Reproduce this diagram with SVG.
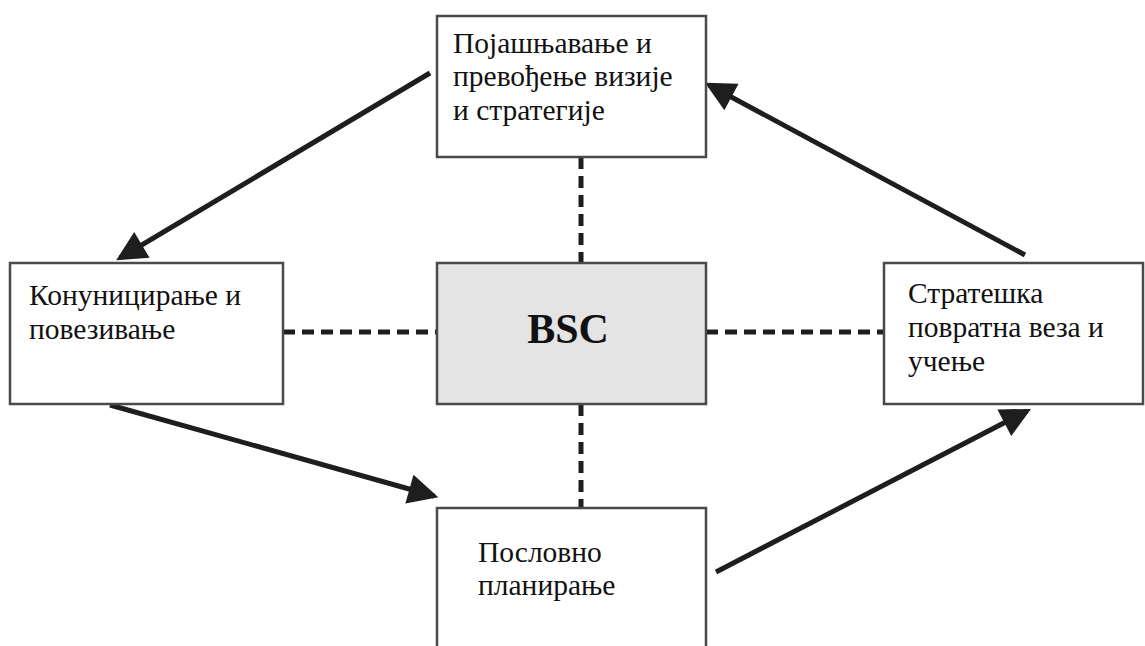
<svg xmlns="http://www.w3.org/2000/svg" width="1145" height="646" viewBox="0 0 1145 646">
<style>
.box{fill:#fff;stroke:#4a4a4a;stroke-width:2.5}
.core{fill:#e4e4e4;stroke:#4a4a4a;stroke-width:2.5}
.t{font-family:"Liberation Serif","Times New Roman",serif;font-size:29.5px;fill:#111}
.b{font-family:"Liberation Serif","Times New Roman",serif;font-size:42px;font-weight:bold;fill:#111}
.dash{stroke:#1e1e1e;stroke-width:5;stroke-dasharray:12 7;fill:none}
.arr{stroke:#1e1e1e;stroke-width:5;fill:none;marker-end:url(#ah)}
</style>
<defs>
<marker id="ah" viewBox="0 0 10 10" refX="8.5" refY="5" markerUnits="userSpaceOnUse" markerWidth="34" markerHeight="30" orient="auto">
<path d="M0,0 L10,5 L0,10 Z" fill="#1e1e1e"/>
</marker>
</defs>
<rect width="1145" height="646" fill="#fff"/>
<g id="connectors">
<line class="dash" x1="581" y1="157" x2="581" y2="263"/>
<line class="dash" x1="581" y1="404" x2="581" y2="508"/>
<line class="dash" x1="283" y1="332" x2="437" y2="332"/>
<line class="dash" x1="706" y1="332" x2="884" y2="332"/>
<line class="arr" x1="430" y1="73" x2="120" y2="258"/>
<line class="arr" x1="110" y1="405" x2="434" y2="496"/>
<line class="arr" x1="716" y1="572" x2="1027" y2="411"/>
<line class="arr" x1="1025" y1="255" x2="709" y2="85"/>
</g>
<g id="node-top">
<rect class="box" x="437" y="16" width="269" height="141"/>
<text class="t" x="453" y="53">Појашњавање и</text>
<text class="t" x="453" y="86">превођење визије</text>
<text class="t" x="453" y="120">и стратегије</text>
</g>
<g id="node-left">
<rect class="box" x="10" y="263" width="273" height="141"/>
<text class="t" x="29" y="305">Конуницирање и</text>
<text class="t" x="29" y="339">повезивање</text>
</g>
<g id="node-bsc">
<rect class="core" x="437" y="263" width="269" height="141"/>
<text class="b" x="568" y="343" text-anchor="middle">BSC</text>
</g>
<g id="node-right">
<rect class="box" x="884" y="263" width="259" height="141"/>
<text class="t" x="908" y="303">Стратешка</text>
<text class="t" x="908" y="337">повратна веза и</text>
<text class="t" x="908" y="371">учење</text>
</g>
<g id="node-bottom">
<rect class="box" x="437" y="508" width="269" height="150"/>
<text class="t" x="478" y="562">Пословно</text>
<text class="t" x="478" y="595">планирање</text>
</g>
</svg>
